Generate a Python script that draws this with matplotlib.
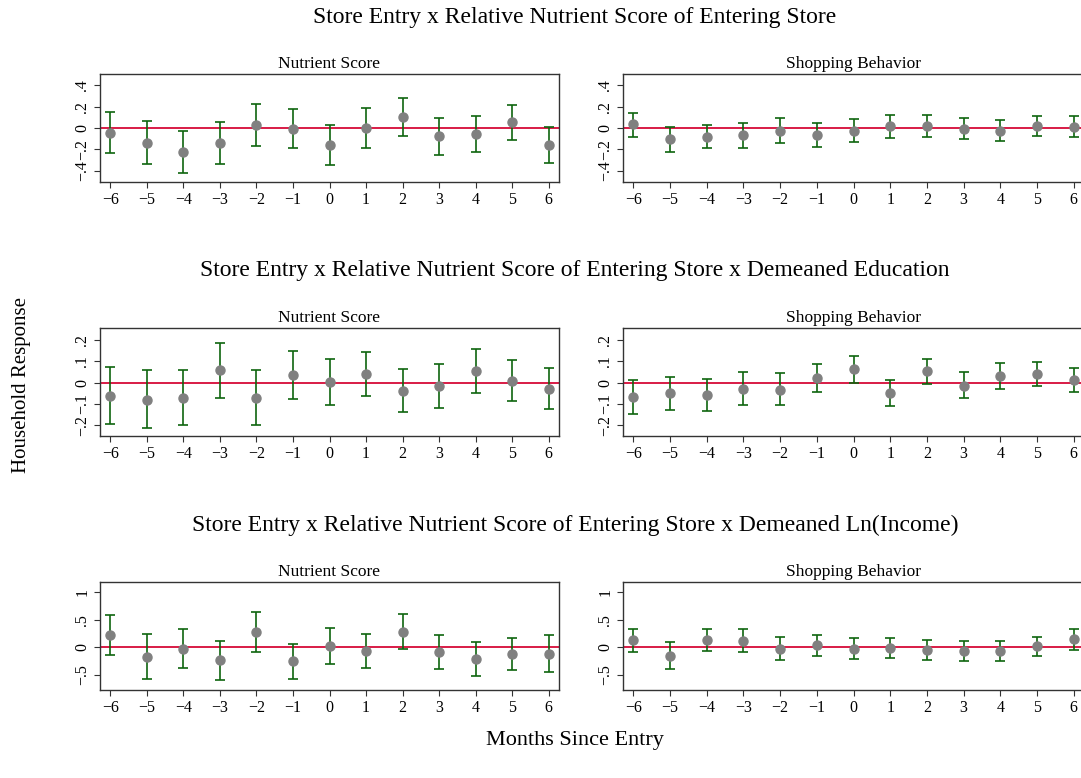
import matplotlib
matplotlib.use("Agg")
import matplotlib.pyplot as plt
import numpy as np

plt.rcParams['font.family'] = ['Liberation Serif', 'DejaVu Serif']

months = np.arange(-6, 7)

# row 1: Store Entry x Relative Nutrient Score
ns1_pt = [-0.044, -0.138, -0.225, -0.144, 0.025, -0.006, -0.160, 0.000, 0.106, -0.078, -0.056, 0.053, -0.159]
ns1_lo = [-0.231, -0.340, -0.419, -0.340, -0.172, -0.190, -0.344, -0.184, -0.075, -0.250, -0.225, -0.109, -0.327]
ns1_hi = [0.150, 0.066, -0.031, 0.056, 0.222, 0.178, 0.025, 0.184, 0.284, 0.094, 0.116, 0.219, 0.010]
sb1_pt = [0.034, -0.106, -0.081, -0.069, -0.025, -0.066, -0.028, 0.016, 0.019, -0.006, -0.025, 0.019, 0.013]
sb1_lo = [-0.084, -0.222, -0.190, -0.184, -0.138, -0.175, -0.134, -0.094, -0.088, -0.106, -0.125, -0.078, -0.088]
sb1_hi = [0.144, 0.013, 0.028, 0.050, 0.091, 0.044, 0.081, 0.125, 0.125, 0.097, 0.075, 0.116, 0.109]

# row 2: ... x Demeaned Education
ns2_pt = [-0.063, -0.080, -0.072, 0.057, -0.071, 0.033, 0.003, 0.039, -0.038, -0.017, 0.054, 0.009, -0.028]
ns2_lo = [-0.195, -0.213, -0.200, -0.071, -0.198, -0.077, -0.104, -0.063, -0.140, -0.118, -0.050, -0.088, -0.124]
ns2_hi = [0.071, 0.057, 0.058, 0.186, 0.060, 0.148, 0.110, 0.143, 0.063, 0.087, 0.156, 0.106, 0.067]
sb2_pt = [-0.068, -0.050, -0.058, -0.030, -0.033, 0.020, 0.061, -0.049, 0.052, -0.014, 0.031, 0.039, 0.013]
sb2_lo = [-0.146, -0.128, -0.134, -0.104, -0.107, -0.043, 0.000, -0.109, -0.008, -0.072, -0.028, -0.017, -0.046]
sb2_hi = [0.011, 0.028, 0.017, 0.047, 0.043, 0.088, 0.124, 0.013, 0.110, 0.047, 0.093, 0.096, 0.068]

# row 3: ... x Demeaned Ln(Income)
ns3_pt = [0.224, -0.170, -0.024, -0.236, 0.273, -0.255, 0.024, -0.073, 0.285, -0.091, -0.218, -0.127, -0.115]
ns3_lo = [-0.133, -0.576, -0.370, -0.594, -0.085, -0.576, -0.297, -0.382, -0.036, -0.400, -0.521, -0.424, -0.455]
ns3_hi = [0.582, 0.248, 0.327, 0.121, 0.636, 0.061, 0.345, 0.236, 0.612, 0.224, 0.097, 0.176, 0.224]
sb3_pt = [0.133, -0.152, 0.127, 0.121, -0.024, 0.036, -0.024, -0.012, -0.048, -0.067, -0.073, 0.018, 0.145]
sb3_lo = [-0.079, -0.388, -0.073, -0.079, -0.230, -0.164, -0.206, -0.188, -0.236, -0.248, -0.248, -0.164, -0.042]
sb3_hi = [0.339, 0.097, 0.339, 0.339, 0.188, 0.224, 0.164, 0.170, 0.133, 0.121, 0.115, 0.188, 0.339]

row_titles = ["Store Entry x Relative Nutrient Score of Entering Store",
              "Store Entry x Relative Nutrient Score of Entering Store x Demeaned Education",
              "Store Entry x Relative Nutrient Score of Entering Store x Demeaned Ln(Income)"]
panel_titles = ["Nutrient Score", "Shopping Behavior"]

row_ylims = [(-0.505, 0.505), (-0.25, 0.255), (-0.78, 1.19)]
row_yticks = [[-0.4, -0.2, 0.0, 0.2, 0.4], [-0.2, -0.1, 0.0, 0.1, 0.2], [-0.5, 0.0, 0.5, 1.0]]
row_ylabels = [["\u2212.4", "\u2212.2", "0", ".2", ".4"],
               ["\u2212.2", "\u2212.1", "0", ".1", ".2"],
               ["\u2212.5", "0", ".5", "1"]]

panels = [[(ns1_pt, ns1_lo, ns1_hi), (sb1_pt, sb1_lo, sb1_hi)],
          [(ns2_pt, ns2_lo, ns2_hi), (sb2_pt, sb2_lo, sb2_hi)],
          [(ns3_pt, ns3_lo, ns3_hi), (sb3_pt, sb3_lo, sb3_hi)]]

W, H = 1081, 778
fig = plt.figure(figsize=(W / 100, H / 100), dpi=100)

def px_axes(x0, y0, x1, y1):
    return fig.add_axes([x0 / W, 1 - y1 / H, (x1 - x0) / W, (y1 - y0) / H])

col_x = [(100, 559), (623, 1084)]
row_y = [(74, 182), (328, 436), (582, 690)]
suptitle_y = [18, 271, 525]

xlabels = [str(m).replace("-", "\u2212") for m in months]

for r in range(3):
    fig.text(575 / W, 1 - suptitle_y[r] / H, row_titles[r], ha='center', va='center', fontsize=17)
    for c in range(2):
        pt, lo, hi = (np.array(a) for a in panels[r][c])
        ax = px_axes(col_x[c][0], row_y[r][0], col_x[c][1], row_y[r][1])
        ax.axhline(0, color='#d81b45', lw=1.4, zorder=1)
        ax.errorbar(months, pt, yerr=[pt - lo, hi - pt], fmt='none', ecolor='#0e650e',
                    elinewidth=1.2, capsize=3.6, capthick=1.2, zorder=2)
        ax.plot(months, pt, 'o', color='#808080', ms=6.5, zorder=3)
        ax.set_xlim(-6.28, 6.28)
        ax.set_ylim(*row_ylims[r])
        ax.set_xticks(months)
        ax.set_xticklabels(xlabels, fontsize=11.5)
        ax.set_yticks(row_yticks[r])
        ax.set_yticklabels(row_ylabels[r], fontsize=11.5, rotation=90, va='center')
        ax.tick_params(length=4, width=0.8, color='#333333', pad=3)
        for s in ax.spines.values():
            s.set_color('#333333')
            s.set_linewidth(1.0)
        ax.set_title(panel_titles[c], fontsize=12.5, pad=4)

fig.text(22 / W, 1 - 385 / H, "Household Response", rotation=90, ha='center', va='center', fontsize=15)
fig.text(575 / W, 1 - 740 / H, "Months Since Entry", ha='center', va='center', fontsize=16)

fig.savefig("out.png", dpi=100)
